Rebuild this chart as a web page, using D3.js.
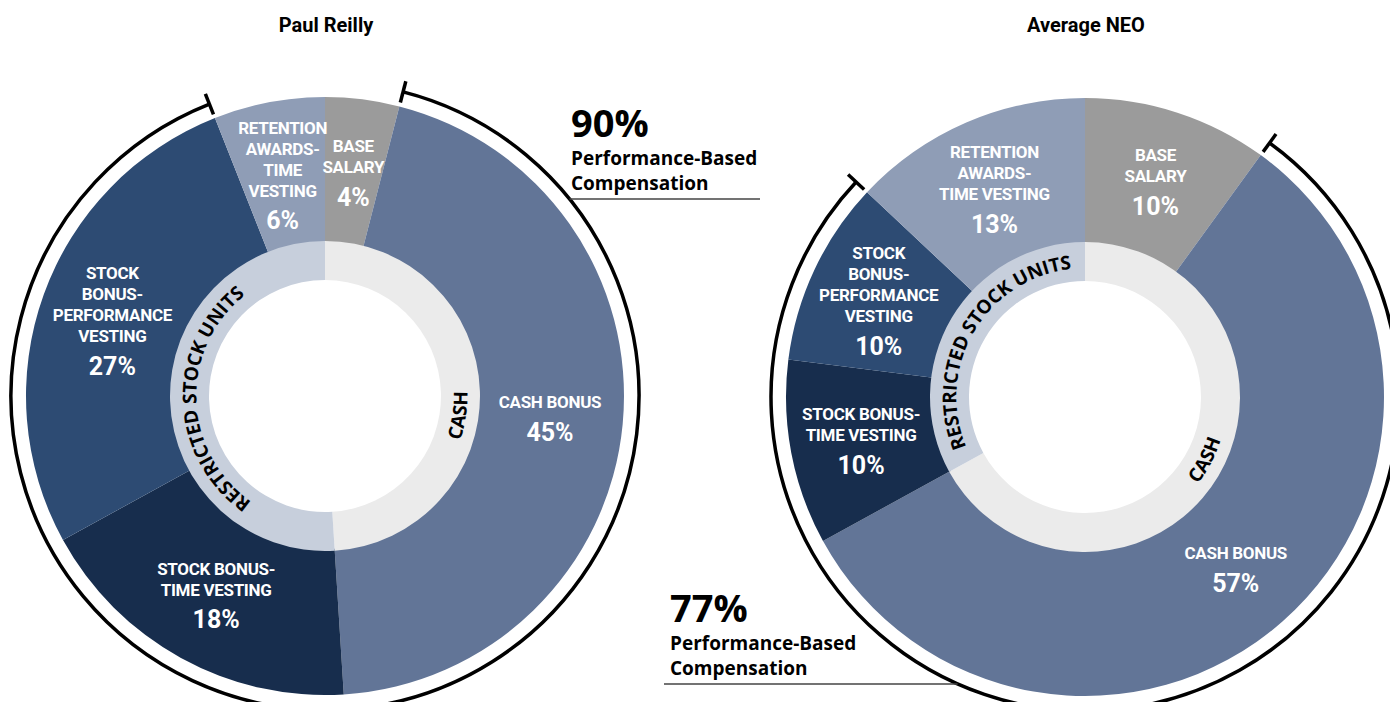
<!DOCTYPE html>
<html>
<head>
<meta charset="utf-8">
<script src="https://cdn.jsdelivr.net/npm/d3@7"></script>
<style>
  html, body { margin: 0; padding: 0; background: #fff; }
  svg { display: block; }
  .lbl { font-family: Roboto, "Noto Sans", sans-serif; font-weight: 700; fill: #fff; }
  .ring { font-family: "Open Sans", sans-serif; font-weight: 700; fill: #000; }
  .note { font-family: "Open Sans", sans-serif; font-weight: 700; fill: #000; }
  .title { font-family: Roboto, sans-serif; font-weight: 700; fill: #000; }
</style>
</head>
<body>
<svg id="chart" width="1390" height="702"></svg>
<script>
// categories in drawing order, clockwise from 12 o'clock
const categories = ["BASE SALARY", "CASH BONUS", "STOCK BONUS-TIME VESTING",
                    "STOCK BONUS-PERFORMANCE VESTING", "RETENTION AWARDS-TIME VESTING"];
const reillyValues = [4, 45, 18, 27, 6];
const neoValues = [10, 57, 10, 10, 13];

// label line breaks per chart
const reillyLines = [["BASE", "SALARY"], ["CASH BONUS"], ["STOCK BONUS-", "TIME VESTING"],
                     ["STOCK", "BONUS-", "PERFORMANCE", "VESTING"], ["RETENTION", "AWARDS-", "TIME", "VESTING"]];
const neoLines = [["BASE", "SALARY"], ["CASH BONUS"], ["STOCK BONUS-", "TIME VESTING"],
                  ["STOCK", "BONUS-", "PERFORMANCE", "VESTING"], ["RETENTION", "AWARDS-", "TIME VESTING"]];

// inner ring groups
const groups = ["CASH", "RESTRICTED STOCK UNITS"];
const groupOf = [0, 0, 1, 1, 1];
// which categories count as performance-based
const performanceCats = [1, 2, 3];

const sliceColors = ["#9b9b9b", "#627597", "#172d4d", "#2d4b73", "#8f9db6"];
const ringColors = ["#ebebeb", "#c7cfdc"];

const svg = d3.select("#chart");

const R = 299, ringIn = 116, ringOut = 155, bracketR = 314;

function drawDonut(cfg) {
    const g = svg.append("g").attr("transform", `translate(${cfg.cx},${cfg.cy})`);
    const pie = d3.pie().sort(null).value(d => d);
    const arcs = pie(cfg.values);

    const outerArc = d3.arc().innerRadius(ringOut - 2).outerRadius(R);
    g.selectAll("path.slice")
        .data(arcs)
        .enter().append("path")
        .attr("class", "slice")
        .attr("d", outerArc)
        .attr("fill", (d, i) => sliceColors[i]);

    // inner ring: sums per group
    const groupVals = groups.map((gName, gi) => d3.sum(cfg.values.filter((v, i) => groupOf[i] === gi)));
    const ringArcs = pie(groupVals);
    const ringArc = d3.arc().innerRadius(ringIn).outerRadius(ringOut);
    g.selectAll("path.ringSeg")
        .data(ringArcs)
        .enter().append("path")
        .attr("class", "ringSeg")
        .attr("d", ringArc)
        .attr("fill", (d, i) => ringColors[i]);

    // ring labels on curved paths
    const rfs = 19;
    const midR = (ringIn + ringOut) / 2;
    const capH = rfs * 0.714;
    ringArcs.forEach((d, i) => {
        const mid = (d.startAngle + d.endAngle) / 2 + (cfg.ringShift[i] || 0) * Math.PI / 180;
        const p = d3.path();
        const id = `${cfg.key}-ring-${i}`;
        if (i === 0) {
            // counter-clockwise, letter tops pointing inward
            const rb = midR + capH / 2;
            p.arc(0, 0, rb, mid, mid - Math.PI, true);
        } else {
            const rb = midR - capH / 2;
            p.arc(0, 0, rb, mid - Math.PI, mid, false);
        }
        g.append("path").attr("id", id).attr("d", p.toString()).attr("fill", "none");
        g.append("text").attr("class", "ring").attr("font-size", rfs)
            .append("textPath")
            .attr("href", "#" + id)
            .attr("startOffset", "50%")
            .attr("text-anchor", "middle")
            .text(groups[i]);
    });

    // slice labels
    const labelArc = d3.arc().innerRadius(cfg.labelR).outerRadius(cfg.labelR);
    const lineStep = 21, pctGap = 30, fs = 17, pfs = 25;
    arcs.forEach((d, i) => {
        const [x, y] = labelArc.centroid(d);
        const lines = cfg.lines[i];
        const total = (lines.length - 1) * lineStep + pctGap;
        const y0 = y - total / 2;
        const t = g.append("text").attr("class", "lbl").attr("text-anchor", "middle");
        lines.forEach((ln, k) => {
            t.append("tspan").attr("x", x).attr("y", y0 + k * lineStep + fs * 0.355)
                .attr("font-size", fs).attr("letter-spacing", -0.3).text(ln);
        });
        t.append("tspan").attr("x", x)
            .attr("y", y0 + (lines.length - 1) * lineStep + pctGap + pfs * 0.355)
            .attr("font-size", pfs).attr("letter-spacing", 0).text(d.data + "%");
    });

    // performance bracket
    const a0 = arcs[performanceCats[0]].startAngle;
    const a1 = arcs[performanceCats[performanceCats.length - 1]].endAngle;
    const bp = d3.path();
    bp.arc(0, 0, bracketR, a0 - Math.PI / 2, a1 - Math.PI / 2, false);
    g.append("path").attr("d", bp.toString())
        .attr("fill", "none").attr("stroke", "#000").attr("stroke-width", 3.5);
    [a0, a1].forEach(a => {
        g.append("line")
            .attr("x1", Math.sin(a) * (bracketR - 11)).attr("y1", -Math.cos(a) * (bracketR - 11))
            .attr("x2", Math.sin(a) * (bracketR + 11)).attr("y2", -Math.cos(a) * (bracketR + 11))
            .attr("stroke", "#000").attr("stroke-width", 3.5);
    });

    // title
    svg.append("text").attr("class", "title").attr("x", cfg.cx + 1).attr("y", 32)
        .attr("text-anchor", "middle").attr("font-size", 20).text(cfg.title);

    // annotation
    const perfTotal = d3.sum(performanceCats, k => cfg.values[k]);
    const n = cfg.note;
    svg.append("text").attr("class", "note").attr("x", n.x).attr("y", n.y)
        .attr("font-size", 38).text(perfTotal + "%");
    svg.append("text").attr("class", "note").attr("x", n.x).attr("y", n.y + 28)
        .attr("font-size", 19).text("Performance-Based");
    svg.append("text").attr("class", "note").attr("x", n.x).attr("y", n.y + 53)
        .attr("font-size", 19).text("Compensation");
    const ly = n.y + 62;
    const dx = Math.sqrt(bracketR * bracketR - (ly - cfg.cy) * (ly - cfg.cy));
    const lx1 = n.side === "right" ? cfg.cx + dx : n.x - 6;
    const lx2 = n.side === "right" ? n.x + 189 : cfg.cx - dx;
    svg.append("line").attr("x1", lx1).attr("x2", lx2).attr("y1", ly).attr("y2", ly)
        .attr("stroke", "#444").attr("stroke-width", 1.5);
}

drawDonut({ key: "reilly", title: "Paul Reilly", cx: 325, cy: 396, values: reillyValues,
            lines: reillyLines, labelR: 226, ringShift: [10, 0],
            note: { x: 571, y: 137, side: "right" } });
drawDonut({ key: "neo", title: "Average NEO", cx: 1085, cy: 397, values: neoValues,
            lines: neoLines, labelR: 228, ringShift: [-3, 0],
            note: { x: 670, y: 622, side: "left" } });
</script>
</body>
</html>
